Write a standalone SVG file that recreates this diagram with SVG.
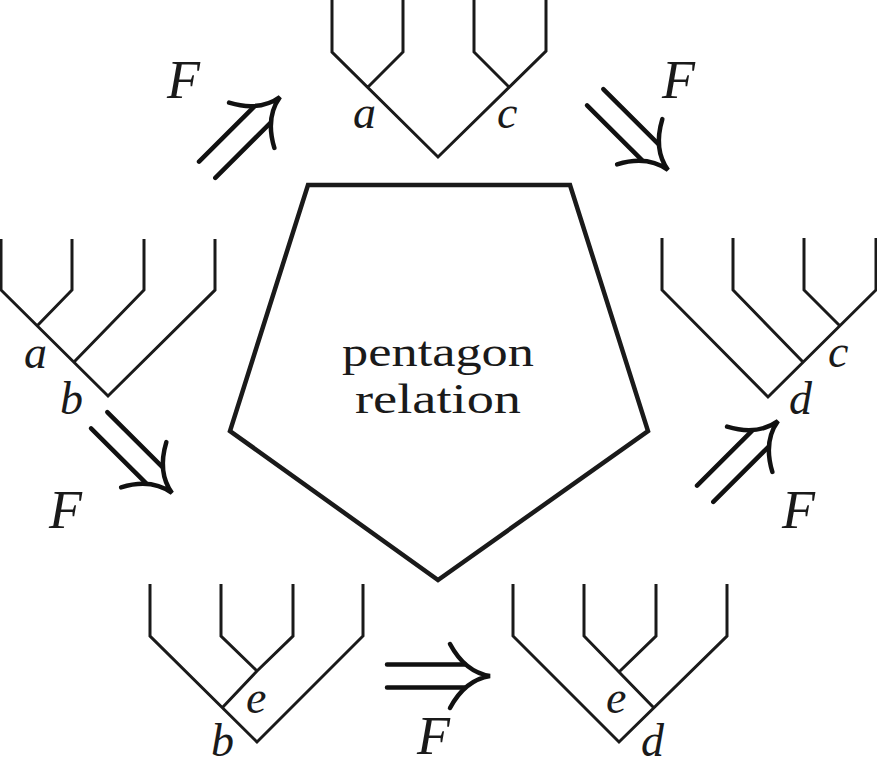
<svg xmlns="http://www.w3.org/2000/svg" width="877" height="767" viewBox="0 0 877 767">
<style>
.tree{fill:none;stroke:#1a1a1a;stroke-width:3;stroke-linejoin:miter;stroke-linecap:butt}
.pent{fill:none;stroke:#1a1a1a;stroke-width:4.5;stroke-linejoin:miter}
.arr{fill:none;stroke:#111;stroke-width:4.5;stroke-linecap:round}
.lab{font-family:"Liberation Serif","DejaVu Serif",serif;font-style:italic;font-size:46px;fill:#1a1a1a}
.F{font-family:"Liberation Serif","DejaVu Serif",serif;font-style:italic;font-size:54px;fill:#1a1a1a}
.txt{font-family:"Liberation Serif","DejaVu Serif",serif;font-size:42px;fill:#1a1a1a;text-anchor:middle}
</style>
<defs>
<g id="dbl">
<path d="M -103,-11.5 L -25,-11.5 M -103,11.5 L -25,11.5"/>
<path d="M -40,-32 Q -25,-4 0,0 Q -25,4 -40,32"/>
</g>
</defs>
<rect width="877" height="767" fill="#fff"/>

<g id="pentagon">
<polygon class="pent" points="308,185 570,185 648,431 438,580 230,431"/>
<text class="txt" x="438" y="366" textLength="192" lengthAdjust="spacingAndGlyphs">pentagon</text>
<text class="txt" x="438" y="413" textLength="166" lengthAdjust="spacingAndGlyphs">relation</text>
</g>

<g id="tree-top">
<path class="tree" d="M 332,0 V 52 L 438,157 L 546,51 V 0 M 403,0 V 52 L 368,87 M 474,0 V 52 L 509,87"/>
<text class="lab" x="353" y="128">a</text>
<text class="lab" x="497" y="128">c</text>
</g>

<g id="tree-left">
<path class="tree" d="M 1,239 V 290 L 108,396 L 215,290 V 239 M 72,239 V 290 L 37,326 M 144,239 V 290 L 74,362"/>
<text class="lab" x="24" y="368">a</text>
<text class="lab" x="60" y="414">b</text>
</g>

<g id="tree-right">
<path class="tree" d="M 662,238 V 290 L 768,397 L 876,290 V 238 M 733,238 V 290 L 803,362 M 804,238 V 290 L 839,325"/>
<text class="lab" x="828" y="367">c</text>
<text class="lab" x="789" y="414">d</text>
</g>

<g id="tree-bottom-left">
<path class="tree" d="M 150,584 V 636 L 257,742 L 363,636 V 584 M 221,584 V 636 L 257,671 L 293,636 V 584 M 257,671 L 222,708"/>
<text class="lab" x="246" y="713">e</text>
<text class="lab" x="211" y="756">b</text>
</g>

<g id="tree-bottom-right">
<path class="tree" d="M 513,584 V 636 L 619,742 L 727,636 V 584 M 584,584 V 636 L 654,708 M 656,584 V 636 L 620,671"/>
<text class="lab" x="606" y="713">e</text>
<text class="lab" x="641" y="756">d</text>
</g>

<g id="connectors">
<use href="#dbl" class="arr" transform="translate(280,97) rotate(-45)"/>
<use href="#dbl" class="arr" transform="translate(668,170) rotate(45)"/>
<use href="#dbl" class="arr" transform="translate(172,493) rotate(45)"/>
<use href="#dbl" class="arr" transform="translate(778,421) rotate(-45)"/>
<use href="#dbl" class="arr" transform="translate(490,676)"/>
<text class="F" x="167" y="98">F</text>
<text class="F" x="662" y="98">F</text>
<text class="F" x="49" y="528">F</text>
<text class="F" x="782" y="528">F</text>
<text class="F" x="417" y="754">F</text>
</g>
</svg>
